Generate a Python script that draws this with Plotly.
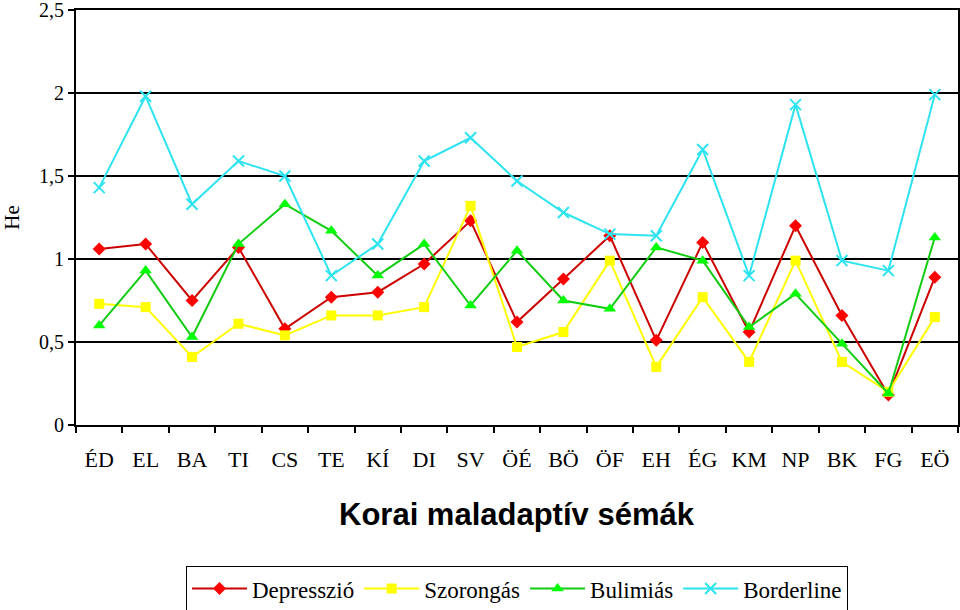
import plotly.graph_objects as go

categories = ["ÉD", "EL", "BA", "TI", "CS", "TE", "KÍ", "DI", "SV", "ÖÉ",
              "BÖ", "ÖF", "EH", "ÉG", "KM", "NP", "BK", "FG", "EÖ"]

depresszio = [1.06, 1.09, 0.75, 1.07, 0.58, 0.77, 0.80, 0.97, 1.23, 0.62,
              0.88, 1.14, 0.51, 1.10, 0.56, 1.20, 0.66, 0.18, 0.89]
szorongas = [0.73, 0.71, 0.41, 0.61, 0.54, 0.66, 0.66, 0.71, 1.32, 0.47,
             0.56, 0.99, 0.35, 0.77, 0.38, 0.99, 0.38, 0.20, 0.65]
bulimias = [0.60, 0.93, 0.53, 1.09, 1.33, 1.17, 0.90, 1.09, 0.72, 1.05,
            0.75, 0.70, 1.07, 0.99, 0.59, 0.79, 0.49, 0.19, 1.13]
borderline = [1.43, 1.98, 1.33, 1.59, 1.50, 0.90, 1.09, 1.59, 1.73, 1.47,
              1.28, 1.15, 1.14, 1.66, 0.90, 1.93, 0.99, 0.93, 1.99]

y_tickvals = [0, 0.5, 1, 1.5, 2, 2.5]
y_ticktext = ["0", "0,5", "1", "1,5", "2", "2,5"]

series = [
    ("Depresszió", depresszio, "#cc0000", "#ff0000", "diamond", 10),
    ("Szorongás", szorongas, "#ffff00", "#ffff00", "square", 10),
    ("Bulimiás", bulimias, "#11cc11", "#00ff00", "triangle-up", 11),
    ("Borderline", borderline, "#2ee3f0", "#2ee3f0", "x-thin", 11),
]

fig = go.Figure()
for name, vals, lc, mc, sym, sz in series:
    mk = dict(symbol=sym, size=sz, color=mc, line=dict(color=mc, width=2 if sym == "x-thin" else 0))
    fig.add_trace(go.Scatter(x=categories, y=vals, name=name, mode="lines+markers",
                             line=dict(color=lc, width=2), marker=mk))

serif = "'Liberation Serif', 'Times New Roman', Times, serif"
fig.update_layout(
    width=960, height=610,
    margin=dict(l=76, r=2, t=10, b=185, autoexpand=False),
    paper_bgcolor="white", plot_bgcolor="white",
    font=dict(family=serif, color="black", size=20),
    showlegend=True,
    legend=dict(orientation="h", x=0.5, xanchor="center", y=-0.34, yanchor="top",
                bordercolor="black", borderwidth=1, font=dict(family=serif, size=23),
                itemwidth=55, tracegroupgap=0),
    xaxis=dict(type="category", showgrid=False, showline=True, linecolor="black", linewidth=2,
               mirror=True, ticks="outside", ticklen=6, tickwidth=2, tickcolor="black",
               tickson="boundaries", tickfont=dict(family=serif, size=22),
               ticklabelstandoff=14, range=[-0.5, 18.5], automargin=False),
    yaxis=dict(range=[0, 2.5], tickvals=y_tickvals, ticktext=y_ticktext,
               showgrid=True, gridcolor="black", gridwidth=2,
               showline=True, linecolor="black", linewidth=2, mirror=True,
               ticks="outside", ticklen=6, tickwidth=2, tickcolor="black",
               tickfont=dict(family=serif, size=20), zeroline=False, automargin=False,
               ticklabeloverflow="allow",
               title=dict(text="He", font=dict(family=serif, size=21), standoff=22)),
    annotations=[dict(text="<b>Korai maladaptív sémák</b>", x=0.5, xref="paper",
                      y=-0.215, yref="paper", xanchor="center", yanchor="middle",
                      showarrow=False, font=dict(family="'Liberation Sans', Arial, sans-serif", size=31))],
)

fig.write_html("out.html", config={"displayModeBar": False},
               post_script="document.body.style.margin='0';document.body.style.overflow='hidden';")
